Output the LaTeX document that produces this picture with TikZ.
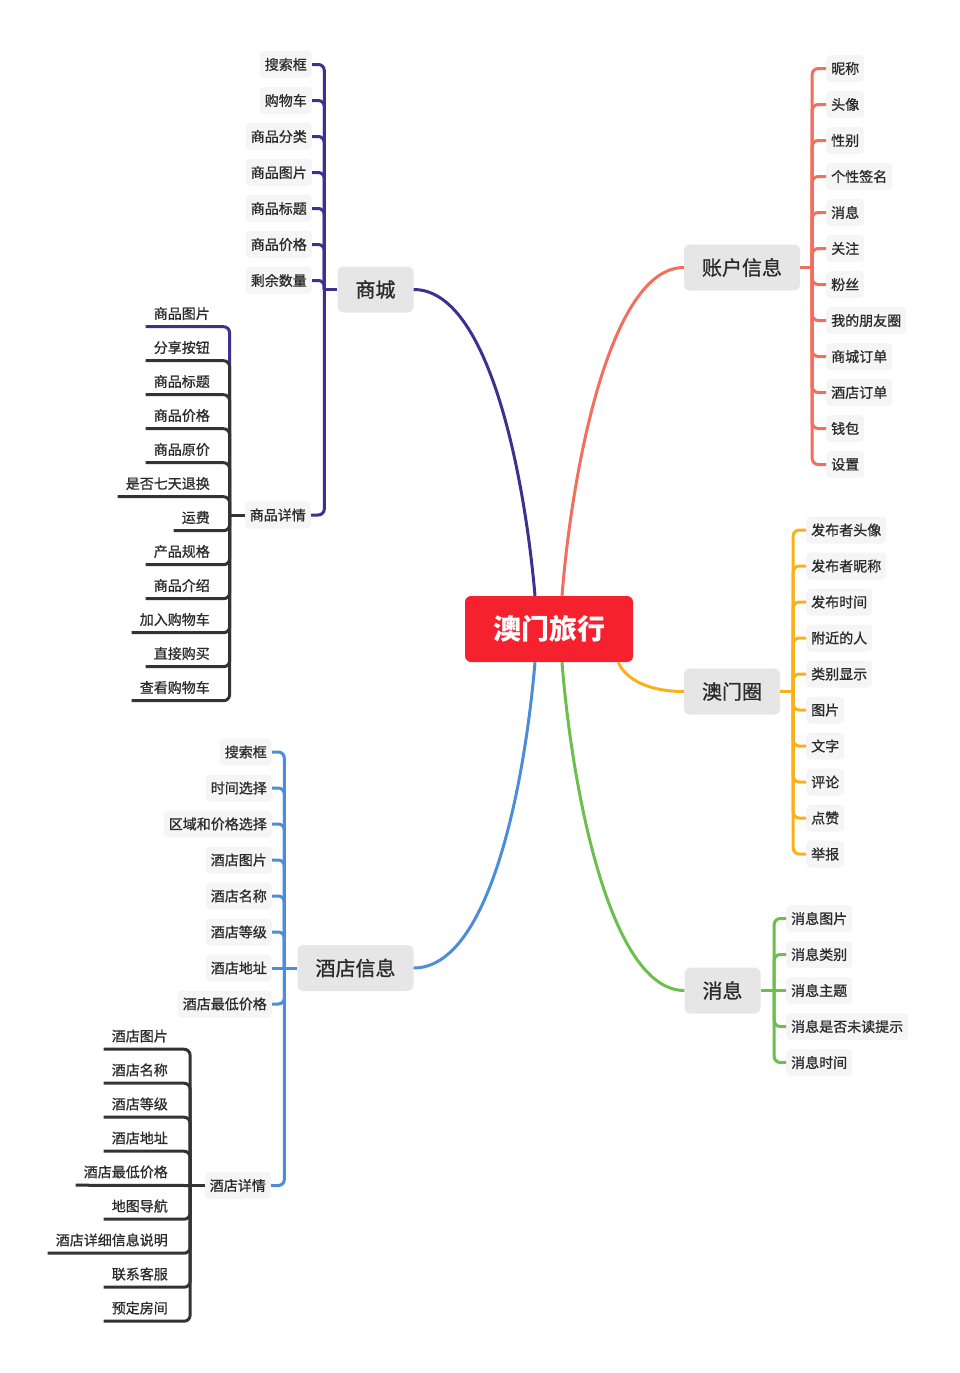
\documentclass[tikz,border=0pt]{standalone}
\usepackage{fontspec}
\setmainfont{Noto Sans CJK SC}
\newfontfamily\medfont{Noto Sans CJK SC}[BoldFont=*, BoldFeatures={FakeBold=0.9}]
\definecolor{cPur}{HTML}{3B3290}
\definecolor{cCor}{HTML}{F36E5E}
\definecolor{cOra}{HTML}{FAB117}
\definecolor{cGre}{HTML}{6CBF4C}
\definecolor{cBlu}{HTML}{4C8DDA}
\definecolor{cRed}{HTML}{F5212F}
\definecolor{cDark}{HTML}{333333}
\definecolor{txt}{HTML}{2B2B2B}
\definecolor{leafbg}{HTML}{F5F5F5}
\definecolor{branchbg}{HTML}{E6E6E6}
\tikzset{
  leaf/.style={fill=leafbg, rounded corners=4pt, inner xsep=5pt, inner ysep=0pt,
    minimum height=27pt, font=\fontsize{14}{16}\selectfont\medfont\bfseries, text=txt},
  uleaf/.style={inner xsep=8pt, inner ysep=0pt, minimum height=26pt,
    font=\fontsize{14}{16}\selectfont\medfont\bfseries, text=txt},
  branch/.style={fill=branchbg, rounded corners=6pt, inner xsep=18pt, inner ysep=0pt,
    minimum height=46pt, font=\fontsize{20}{24}\selectfont\medfont\bfseries, text=txt},
  root/.style={fill=cRed, rounded corners=6pt, minimum width=168pt, minimum height=66pt,
    inner sep=0pt, font=\fontsize{28}{32}\selectfont\bfseries, text=white},
  conn/.style={line width=3pt, rounded corners=6pt},
  curve/.style={line width=3pt},
}
\begin{document}
\begin{tikzpicture}[x=1pt,y=-1pt]
\useasboundingbox (0,0) rectangle (960,1373);

% root and branches
\node[root] (root) at (549,629) {澳门旅行};
\node[branch] (shop) at (375.5,289.5) {商城};
\node[branch] (acct) at (742,267.5) {账户信息};
\node[branch] (circ) at (732,691.5) {澳门圈};
\node[branch] (msg) at (722.5,990.5) {消息};
\node[branch] (hotel) at (355.5,968) {酒店信息};

% main curves
\draw[curve, cPur] ([xshift=-14pt]root.north) .. controls +(-10,-116) and +(76,0) .. (shop.east);
\draw[curve, cCor] ([xshift=13pt]root.north) .. controls +(10,-126) and +(-74,0) .. (acct.west);
\draw[curve, cBlu] ([xshift=-14pt]root.south) .. controls +(-10,118) and +(77,0) .. (hotel.east);
\draw[curve, cGre] ([xshift=13pt]root.south) .. controls +(10,128) and +(-74,0) .. (msg.west);
\draw[curve, cOra] ([xshift=-15pt]root.south east) .. controls +(8,18) and +(-34,0) .. (circ.west);

% ---------- shop ----------
\foreach \t [count=\i] in {搜索框,购物车,商品分类,商品图片,商品标题,商品价格,剩余数量}
  \node[leaf, anchor=east] (s\i) at (312,{64.5+36*(\i-1)}) {\t};
\node[leaf, anchor=east] (sD) at (311,515) {商品详情};
\draw[conn, cPur] (shop.west) -- ++(-13,0) coordinate (sJ);
\foreach \i in {1,...,7} \draw[conn, cPur] (sJ) |- (s\i.east);
\draw[conn, cPur] (sJ) |- (sD.east);

% shop details
\foreach \t [count=\i] in {商品图片,分享按钮,商品标题,商品价格,商品原价,是否七天退换,运费,产品规格,商品介绍,加入购物车,直接购买,查看购物车}
  \node[uleaf, anchor=east] (d\i) at (218,{313.5+34*(\i-1)}) {\t};
\draw[conn, cDark] (sD.west) -- ++(-15,0) coordinate (dJ);
\draw[conn, cPur] (dJ) |- (d1.south west);
\foreach \i in {2,...,12} \draw[conn, cDark] (dJ) |- (d\i.south west);

% ---------- account ----------
\foreach \t [count=\i] in {昵称,头像,性别,个性签名,消息,关注,粉丝,我的朋友圈,商城订单,酒店订单,钱包,设置}
  \node[leaf, anchor=west] (a\i) at (826,{68.5+36*(\i-1)}) {\t};
\draw[conn, cCor] (acct.east) -- ++(12,0) coordinate (aJ);
\foreach \i in {1,...,12} \draw[conn, cCor] (aJ) |- (a\i.west);

% ---------- macau circle ----------
\foreach \t [count=\i] in {发布者头像,发布者昵称,发布时间,附近的人,类别显示,图片,文字,评论,点赞,举报}
  \node[leaf, anchor=west] (m\i) at (806,{530+36*(\i-1)}) {\t};
\draw[conn, cOra] (circ.east) -- ++(13,0) coordinate (mJ);
\foreach \i in {1,...,10} \draw[conn, cOra] (mJ) |- (m\i.west);

% ---------- messages ----------
\foreach \t [count=\i] in {消息图片,消息类别,消息主题,消息是否未读提示,消息时间}
  \node[leaf, anchor=west] (n\i) at (786,{918.5+36*(\i-1)}) {\t};
\draw[conn, cGre] (msg.east) -- ++(13.5,0) coordinate (nJ);
\foreach \i in {1,2,4,5} \draw[conn, cGre] (nJ) |- (n\i.west);
\draw[conn, cGre] (nJ) -- (n3.west);

% ---------- hotel ----------
\foreach \t [count=\i] in {搜索框,时间选择,区域和价格选择,酒店图片,酒店名称,酒店等级,酒店地址,酒店最低价格}
  \node[leaf, anchor=east] (h\i) at (272,{752+36*(\i-1)}) {\t};
\node[leaf, anchor=east] (hD) at (271,1185.5) {酒店详情};
\draw[conn, cBlu] (hotel.west) -- ++(-13,0) coordinate (hJ);
\foreach \i in {1,...,6,8} \draw[conn, cBlu] (hJ) |- (h\i.east);
\draw[conn, cBlu] (hJ) -- (h7.east);
\draw[conn, cBlu] (hJ) |- (hD.east);

% hotel details
\foreach \t [count=\i] in {酒店图片,酒店名称,酒店等级,酒店地址,酒店最低价格,地图导航,酒店详细信息说明,联系客服,预定房间}
  \node[uleaf, anchor=east] (e\i) at (176,{1036+34*(\i-1)}) {\t};
\draw[conn, cDark] (hD.west) -- ++(-14.5,0) coordinate (eJ);
\foreach \i in {1,...,4,6,7,8,9} \draw[conn, cDark] (eJ) |- (e\i.south west);
\draw[conn, cDark] (eJ) -- (e5.south west);
\end{tikzpicture}
\end{document}
